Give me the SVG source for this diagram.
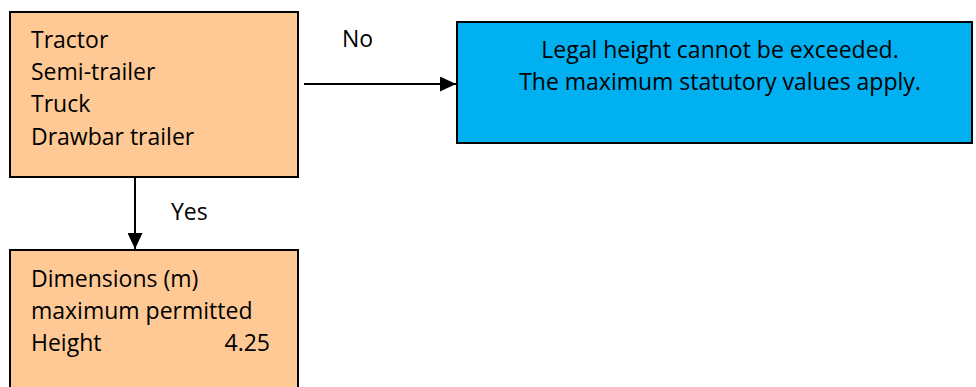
<svg xmlns="http://www.w3.org/2000/svg" width="976" height="387" viewBox="0 0 976 387">
<defs>
<marker id="arr" markerWidth="16" markerHeight="15" refX="16" refY="7.5" orient="auto" markerUnits="userSpaceOnUse">
<path d="M0,0 L16,7.5 L0,15 Z" fill="#000"/>
</marker>
<style>
.box{stroke:#000;stroke-width:2}
.orange{fill:#FFC995}
.blue{fill:#00B0F0}
.t{font-family:"Open Sans","Liberation Sans",sans-serif;font-size:23px;fill:#000}
.c{stroke:#000;stroke-width:2;fill:none}
</style>
</defs>
<g id="node-vehicles">
<rect class="box orange" x="10" y="12" width="288" height="165"/>
<text class="t" x="31" y="48">Tractor</text>
<text class="t" x="31" y="80">Semi-trailer</text>
<text class="t" x="31" y="112">Truck</text>
<text class="t" x="31" y="145">Drawbar trailer</text>
</g>
<g id="node-legal">
<rect class="box blue" x="457" y="22" width="515" height="121"/>
<text class="t" x="720" y="58" text-anchor="middle">Legal height cannot be exceeded.</text>
<text class="t" x="720" y="90" text-anchor="middle">The maximum statutory values apply.</text>
</g>
<g id="node-dimensions">
<rect class="box orange" x="10" y="250" width="288" height="145"/>
<text class="t" x="31" y="287">Dimensions (m)</text>
<text class="t" x="31" y="319">maximum permitted</text>
<text class="t" x="31" y="351">Height</text>
<text class="t" x="270" y="351" text-anchor="end">4.25</text>
</g>
<g id="connectors">
<line class="c" x1="304" y1="84" x2="456" y2="84" marker-end="url(#arr)"/>
<line class="c" x1="135" y1="177" x2="135" y2="249" marker-end="url(#arr)"/>
<text class="t" x="342" y="47">No</text>
<text class="t" x="171" y="220">Yes</text>
</g>
</svg>
